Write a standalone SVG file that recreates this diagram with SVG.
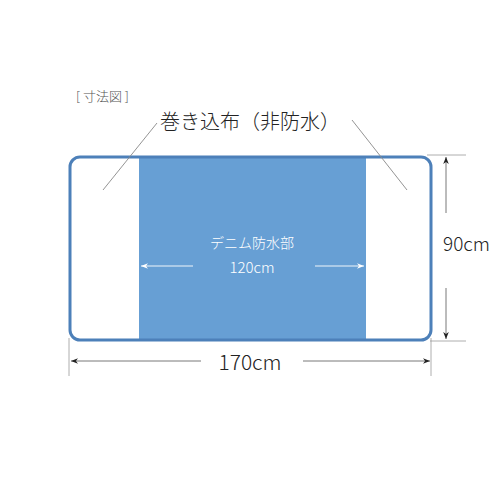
<svg xmlns="http://www.w3.org/2000/svg" width="500" height="500" viewBox="0 0 500 500">
<defs>
<marker id="ak" viewBox="0 0 10 10" refX="10" refY="5" markerWidth="7" markerHeight="7" orient="auto-start-reverse" markerUnits="userSpaceOnUse"><path d="M0,1 L10,5 L0,9 L3,5 Z" fill="#222"/></marker>
<marker id="aw" viewBox="0 0 10 10" refX="10" refY="5" markerWidth="7" markerHeight="7" orient="auto-start-reverse" markerUnits="userSpaceOnUse"><path d="M0,1 L10,5 L0,9 L3,5 Z" fill="#fff"/></marker>
<style>
.t{font-family:"Noto Sans CJK JP","Noto Sans",sans-serif;font-weight:300}
.dim{stroke:#555;stroke-width:0.8;fill:none}
.ext{stroke:#999;stroke-width:0.8;fill:none}
.lead{stroke:#888;stroke-width:0.9;fill:none}
</style>
</defs>
<rect width="500" height="500" fill="#fff"/>
<g id="cloth">
<rect x="70" y="157" width="361" height="183" rx="10" fill="#fff"/>
<rect x="139" y="157" width="227" height="183" fill="#679fd4"/>
<rect x="70" y="157" width="361" height="183" rx="10" fill="none" stroke="#4d80b9" stroke-width="3"/>
</g>
<g id="labels">
<text class="t" x="76" y="101" font-size="13" fill="#555">[ 寸法図 ]</text>
<text class="t" x="160" y="129" font-size="20" fill="#222">巻き込布（非防水）</text>
<text class="t" x="252" y="248" font-size="14" fill="#fff" text-anchor="middle">デニム防水部</text>
<text class="t" x="252" y="273" font-size="15" fill="#fff" text-anchor="middle">120cm</text>
<text class="t" x="250" y="370" font-size="21" fill="#222" text-anchor="middle">170cm</text>
<text class="t" x="443" y="251" font-size="19" fill="#222">90cm</text>
</g>
<g id="connectors">
<line class="lead" x1="157" y1="123" x2="103" y2="190"/>
<line class="lead" x1="352" y1="120" x2="407" y2="190"/>
<line x1="193" y1="266" x2="141" y2="266" stroke="#fff" stroke-width="0.9" marker-end="url(#aw)"/>
<line x1="315" y1="266" x2="364" y2="266" stroke="#fff" stroke-width="0.9" marker-end="url(#aw)"/>
<line class="ext" x1="69" y1="338" x2="69" y2="376"/>
<line class="ext" x1="431" y1="338" x2="431" y2="376"/>
<line class="dim" x1="201" y1="361" x2="71" y2="361" marker-end="url(#ak)"/>
<line class="dim" x1="303" y1="361" x2="430" y2="361" marker-end="url(#ak)"/>
<line class="ext" x1="427" y1="155" x2="466" y2="155"/>
<line class="ext" x1="430" y1="341" x2="466" y2="341"/>
<line class="dim" x1="446" y1="213" x2="446" y2="157" marker-end="url(#ak)"/>
<line class="dim" x1="446" y1="288" x2="446" y2="339" marker-end="url(#ak)"/>
</g>
</svg>
